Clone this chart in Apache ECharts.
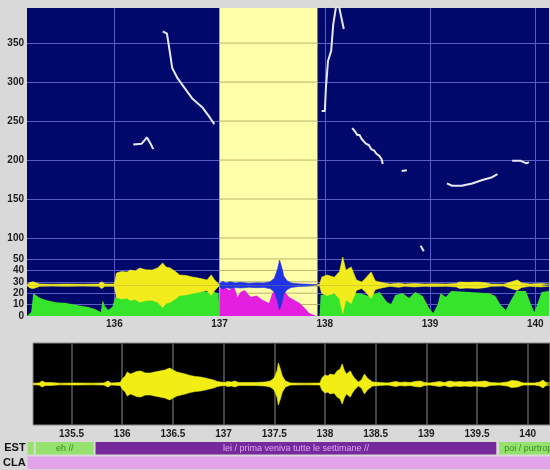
<!DOCTYPE html>
<html lang="it">
<head>
<meta charset="UTF-8">
<title>WinPitch</title>
<script src="https://cdn.jsdelivr.net/npm/echarts@6/dist/echarts.min.js"></script>
<style>
  html, body { margin: 0; padding: 0; background: #d9d9d9; }
  #main { width: 550px; height: 470px; }
</style>
</head>
<body>
<div id="main"></div>
<script>
// time windows (s)
var pitchView = [135.17, 140.13];
var waveView = [135.12, 140.22];
var tierView = [135.06, 140.21];
var selection = [137.0, 137.93];

// grid levels
var pitchLevels = [100, 150, 200, 250, 300, 350];
var dbLevels = [10, 20, 30, 40, 50];
var dbBaseline = 27;

// F0 contours [t, Hz]
var pitch1 = [[136.18, 220], [136.26, 221], [136.31, 229], [136.34, 222], [136.37, 214]];
var pitch2 = [[136.46, 365], [136.50, 362], [136.53, 336], [136.55, 318], [136.60, 305], [136.67, 292],
              [136.74, 279], [136.84, 267], [136.91, 254], [136.95, 246]];
var pitch3 = [[137.97, 263], [138.00, 263], [138.01, 292], [138.03, 327], [138.06, 340], [138.08, 374], [138.11, 400]];
var pitch4 = [[138.13, 400], [138.18, 368]];
var pitch5 = [[138.26, 241], [138.29, 236], [138.31, 232], [138.33, 232], [138.35, 227], [138.37, 224],
              [138.39, 221], [138.42, 219], [138.44, 214], [138.47, 212], [138.49, 208], [138.52, 205],
              [138.54, 201], [138.55, 195]];
var pitch6 = [[138.73, 186], [138.78, 187]];
var pitch7 = [[138.91, 90], [138.94, 83]];
var pitch8 = [[139.16, 170], [139.21, 167], [139.30, 167], [139.40, 170], [139.49, 174], [139.59, 178], [139.64, 182]];
var pitch9 = [[139.78, 199], [139.86, 199], [139.91, 196], [139.94, 197]];
var contours = [pitch1, pitch2, pitch3, pitch4, pitch5, pitch6, pitch7, pitch8, pitch9];

// intensity [t, dB]
var greenDb = [[135.17, 0], [135.21, 3.5], [135.23, 20], [135.26, 18], [135.29, 16], [135.35, 14], [135.44, 12],
  [135.54, 11.4], [135.64, 9.6], [135.75, 7.9], [135.82, 6], [135.87, 3.5], [135.89, 14], [135.91, 8.8],
  [135.94, 5.3], [135.98, 7.9], [136.01, 16.7], [136.04, 19], [136.10, 17.5], [136.17, 20], [136.24, 16.7],
  [136.34, 19], [136.43, 17.5], [136.53, 20], [136.67, 21], [136.81, 22], [136.95, 21], [136.99, 20], [137.0, 0],
  [137.95, 0], [137.96, 18.4], [138.04, 20], [138.14, 18.4], [138.23, 21], [138.33, 20], [138.42, 17.5],
  [138.52, 21], [138.59, 12.3], [138.63, 10.5], [138.67, 18.4], [138.74, 20], [138.80, 15.8], [138.86, 21],
  [138.93, 17.5], [138.99, 7], [139.03, 2.6], [139.07, 9.6], [139.10, 20], [139.15, 16.7], [139.20, 22],
  [139.37, 21], [139.56, 20], [139.62, 17.5], [139.67, 9.6], [139.72, 5.3], [139.77, 14], [139.82, 22],
  [139.91, 22], [139.95, 12.3], [139.99, 3.5], [140.02, 10.5], [140.06, 21], [140.13, 22]];
var selectionDb = [[137.0, 0], [137.005, 25], [137.04, 29], [137.07, 24], [137.09, 22.8], [137.14, 25.4],
  [137.17, 16.7], [137.20, 21], [137.24, 22.8], [137.27, 19], [137.30, 16.7], [137.35, 18], [137.41, 14],
  [137.47, 11.4], [137.50, 20], [137.54, 22.8], [137.59, 25.4], [137.62, 21], [137.66, 16.7], [137.71, 14],
  [137.76, 11.4], [137.81, 7], [137.85, 2.6], [137.92, 0]];

// half width of the energy band around the baseline [t, dB]
var yellowHalf = [[135.17, 0.5], [135.20, 2.5], [135.23, 3], [135.26, 2], [135.29, 1], [135.40, 0.8], [135.55, 1],
  [135.70, 0.8], [135.85, 1], [135.88, 3], [135.91, 1], [136.00, 1], [136.02, 10.7], [136.07, 12], [136.12, 11.5],
  [136.15, 13.3], [136.20, 12.5], [136.24, 15], [136.30, 13.5], [136.36, 13.3], [136.41, 15], [136.46, 19.5],
  [136.49, 16], [136.53, 15], [136.58, 12], [136.62, 9], [136.68, 8.5], [136.74, 7.2], [136.81, 6], [136.88, 4.6],
  [136.92, 9], [136.95, 5], [136.98, 2], [137.0, 0.5],
  [137.95, 0.5], [137.97, 7], [138.02, 9], [138.09, 7], [138.14, 12], [138.17, 24.7], [138.20, 13], [138.25, 16],
  [138.30, 4.6], [138.35, 2.8], [138.38, 5.4], [138.44, 11.6], [138.48, 3.7], [138.56, 2], [138.62, 1],
  [138.70, 1.8], [138.76, 1], [138.85, 1.5], [138.95, 1], [139.05, 1.2], [139.15, 1], [139.25, 1.5], [139.28, 2.8],
  [139.35, 2.5], [139.45, 2.8], [139.52, 2.2], [139.58, 1], [139.70, 0.8], [139.79, 3.5], [139.83, 4.5],
  [139.87, 2], [139.95, 1], [140.05, 1.5], [140.13, 1]];
var blueHalf = [[137.0, 1.5], [137.03, 3.5], [137.06, 2], [137.10, 3], [137.15, 2], [137.20, 2.5], [137.28, 1.8],
  [137.35, 2.2], [137.42, 2], [137.48, 3], [137.52, 6], [137.55, 14], [137.57, 22], [137.59, 16], [137.61, 8],
  [137.64, 4], [137.68, 2], [137.75, 1.2], [137.85, 0.8], [137.93, 0.5]];

// waveform envelope [t, amplitude]
var waveHalf = [[135.12, 0.8], [135.18, 1], [135.21, 3], [135.24, 1.5], [135.29, 1.5], [135.39, 0.8], [135.54, 1],
  [135.70, 0.8], [135.82, 1], [135.86, 3], [135.89, 1], [135.98, 1.5], [136.0, 5], [136.03, 8], [136.05, 12],
  [136.08, 10], [136.11, 11], [136.14, 12.5], [136.18, 13], [136.23, 11], [136.28, 11], [136.32, 12], [136.37, 13],
  [136.42, 14], [136.47, 16], [136.50, 14], [136.54, 12], [136.58, 11], [136.62, 10], [136.67, 8.5], [136.72, 7.5],
  [136.77, 7], [136.82, 6], [136.86, 5], [136.90, 4], [136.94, 2.5], [136.97, 2], [137.01, 1.5], [137.04, 2.5],
  [137.08, 2], [137.11, 3], [137.15, 1.5], [137.21, 1.5], [137.31, 1.5], [137.41, 2], [137.46, 3], [137.50, 6],
  [137.53, 14], [137.54, 21], [137.56, 15], [137.58, 8], [137.61, 3], [137.66, 1], [137.80, 0.8], [137.95, 1],
  [137.97, 6], [138.0, 9], [138.03, 8], [138.05, 10], [138.09, 9], [138.12, 13], [138.15, 15], [138.17, 20],
  [138.19, 14], [138.21, 10], [138.25, 13], [138.27, 9], [138.29, 6], [138.33, 2], [138.36, 4], [138.39, 10],
  [138.41, 7], [138.43, 5], [138.47, 2], [138.54, 1.5], [138.62, 1], [138.67, 2], [138.70, 2.5], [138.74, 1.5],
  [138.79, 2], [138.84, 1.5], [138.89, 2.5], [138.94, 3], [138.98, 1.5], [139.03, 1], [139.10, 2], [139.13, 2.5],
  [139.18, 1.5], [139.23, 3], [139.28, 2], [139.33, 2.5], [139.38, 2], [139.43, 2.5], [139.48, 2], [139.53, 2.5],
  [139.58, 3], [139.63, 1.5], [139.72, 1], [139.80, 2], [139.84, 3.5], [139.90, 3], [139.94, 1.5], [139.97, 1],
  [140.07, 1], [140.12, 2], [140.15, 4], [140.18, 1.5], [140.22, 1]];

// annotation tiers
var tiers = ['EST', 'CLA'];
var segments = [
  ['EST', 135.06, 135.14, '', 'g'],
  ['EST', 135.14, 135.73, 'eh //', 'g'],
  ['EST', 135.73, 139.70, 'lei / prima veniva tutte le settimane //', 'p'],
  ['EST', 139.71, 141.00, 'poi / purtroppo //', 'g'],
  ['CLA', 135.06, 141.00, '', 'l']
];

var segFill = { g: '#97e26e', p: '#76299c', l: '#e2a3ea' };
var segInk = { g: '#2f8f22', p: '#dfa6f2', l: '#76299c' };

var blueLine = '#5a5cc8';
var oliveLine = '#bab46c';
var labelFont = { color: '#1c1c1c', fontSize: 10, fontWeight: 'bold', fontFamily: 'Liberation Sans' };

function levelLines(levels) {
  return levels.map(function (v) { return { yAxis: v }; });
}
function markLine(z, data, color, width) {
  return {
    z: z, silent: true, symbol: 'none', animation: false,
    label: { show: false },
    lineStyle: { color: color, width: width || 1, type: 'solid' },
    emphasis: { disabled: true },
    data: data
  };
}

function renderSegment(params, api) {
  var row = api.value(0);
  var a = api.coord([api.value(1), row]);
  var b = api.coord([api.value(2), row]);
  var h = api.size([0, 1])[1];
  var cs = params.coordSys;
  var rect = echarts.graphic.clipRectByRect(
    { x: a[0], y: a[1] - h / 2 + 1, width: b[0] - a[0] - 2, height: h - 2 },
    { x: cs.x, y: cs.y, width: cs.width, height: cs.height });
  if (!rect) return;
  var seg = segments[params.dataIndex];
  return {
    type: 'rect',
    shape: rect,
    style: { fill: segFill[seg[4]] },
    textContent: {
      style: { text: seg[3], fill: segInk[seg[4]], font: '9px "Liberation Sans"' }
    },
    textConfig: { position: b[0] > cs.x + cs.width ? 'insideLeft' : 'inside' }
  };
}

var series = [];

contours.forEach(function (c, i) {
  var s = {
    type: 'line', xAxisIndex: 0, yAxisIndex: 0, z: 6,
    data: c, showSymbol: false, symbol: 'none', silent: true,
    lineStyle: { color: '#e8e8f4', width: 2 }
  };
  if (i === 0) {
    s.markLine = markLine(0, levelLines(pitchLevels), blueLine);
    s.markArea = {
      z: 1, silent: true, animation: false,
      itemStyle: { color: '#ffffaa' },
      data: [[{ xAxis: selection[0] }, { xAxis: selection[1] }]]
    };
  }
  series.push(s);
});

// grid lines redrawn inside the selected span
[[pitchLevels, 0], [dbLevels, 1]].forEach(function (set) {
  set[0].forEach(function (v) {
    series.push({
      type: 'line', xAxisIndex: 0, yAxisIndex: set[1], z: 2, silent: true,
      data: [[selection[0], v], [selection[1], v]], symbol: 'none',
      lineStyle: { color: oliveLine, width: 1 }
    });
  });
});

series.push({
  type: 'line', xAxisIndex: 0, yAxisIndex: 1, z: 3, silent: true,
  data: greenDb, symbol: 'none',
  lineStyle: { width: 0 }, areaStyle: { color: '#35e42b', opacity: 1 },
  markLine: markLine(0, levelLines(dbLevels), blueLine)
});
series.push({
  type: 'line', xAxisIndex: 0, yAxisIndex: 1, z: 3, silent: true,
  data: selectionDb, symbol: 'none',
  lineStyle: { width: 0 }, areaStyle: { color: '#e41fe0', opacity: 1 }
});

[[yellowHalf, '#f3ec1d', 4], [blueHalf, '#1f33e4', 5]].forEach(function (band) {
  [1, -1].forEach(function (sign) {
    var s = {
      type: 'line', xAxisIndex: 0, yAxisIndex: 1, z: band[2], silent: true,
      data: band[0].map(function (d) { return [d[0], dbBaseline + sign * d[1]]; }),
      symbol: 'none',
      lineStyle: { color: band[1], width: 0.6 },
      areaStyle: { color: band[1], opacity: 1, origin: dbBaseline }
    };
    if (band[2] === 4 && sign === 1) {
      s.markLine = markLine(4, [{ yAxis: dbBaseline }], 'rgba(150,150,140,0.75)', 1.5);
    }
    series.push(s);
  });
});

[1, -1].forEach(function (sign) {
  series.push({
    type: 'line', xAxisIndex: 1, yAxisIndex: 2, z: 3, silent: true,
    data: waveHalf.map(function (d) { return [d[0], sign * d[1]]; }),
    symbol: 'none',
    lineStyle: { color: '#f2ee14', width: 0.6 },
    areaStyle: { color: '#f2ee14', opacity: 1 }
  });
});

series.push({
  type: 'custom', xAxisIndex: 2, yAxisIndex: 3, silent: true,
  renderItem: renderSegment,
  encode: { x: [1, 2], y: 0 },
  data: segments.map(function (s) { return [s[0], s[1], s[2]]; })
});

var chart = echarts.init(document.getElementById('main'));
chart.setOption({
  backgroundColor: '#d9d9d9',
  animation: false,
  grid: [
    { left: 27, right: 1, top: 8, height: 308, show: true, backgroundColor: '#00086c', borderWidth: 0 },
    { left: 33, right: 0, top: 343, height: 82, show: true, backgroundColor: '#000000', borderColor: '#8a8a8a', borderWidth: 1 },
    { left: 27, right: 0, top: 441, height: 31 }
  ],
  xAxis: [
    {
      type: 'value', gridIndex: 0, min: pitchView[0], max: pitchView[1], splitNumber: 5,
      axisLine: { show: false }, axisTick: { show: false },
      axisLabel: Object.assign({ margin: 3, showMinLabel: false, showMaxLabel: false }, labelFont),
      splitLine: { show: true, showMinLine: false, showMaxLine: false, lineStyle: { color: blueLine, width: 1 } }
    },
    {
      type: 'value', gridIndex: 1, min: waveView[0], max: waveView[1], splitNumber: 10,
      axisLine: { show: false }, axisTick: { show: false },
      axisLabel: Object.assign({ margin: 4, showMinLabel: false, showMaxLabel: false }, labelFont),
      splitLine: { show: true, showMinLine: false, showMaxLine: false, lineStyle: { color: '#5e5e5e', width: 1.5 } }
    },
    { type: 'value', gridIndex: 2, min: tierView[0], max: tierView[1], show: false }
  ],
  yAxis: [
    {
      type: 'value', gridIndex: 0, min: 0, max: 395, interval: 50,
      axisLine: { show: false }, axisTick: { show: false }, splitLine: { show: false },
      axisLabel: Object.assign({
        margin: 3, showMaxLabel: false,
        formatter: function (v) { return v >= 100 ? String(v) : ''; }
      }, labelFont)
    },
    {
      type: 'value', gridIndex: 0, position: 'left', min: 0, max: 270, interval: 10,
      axisLine: { show: false }, axisTick: { show: false }, splitLine: { show: false },
      axisLabel: Object.assign({
        margin: 3, showMaxLabel: false,
        formatter: function (v) { return v <= 50 ? String(v) : ''; }
      }, labelFont)
    },
    { type: 'value', gridIndex: 1, min: -41, max: 41, show: false },
    {
      type: 'category', gridIndex: 2, data: tiers, inverse: true,
      axisLine: { show: false }, axisTick: { show: false }, splitLine: { show: false },
      axisLabel: Object.assign({ margin: 2 }, labelFont, { fontSize: 11, color: '#111' })
    }
  ],
  series: series
});
</script>
</body>
</html>
